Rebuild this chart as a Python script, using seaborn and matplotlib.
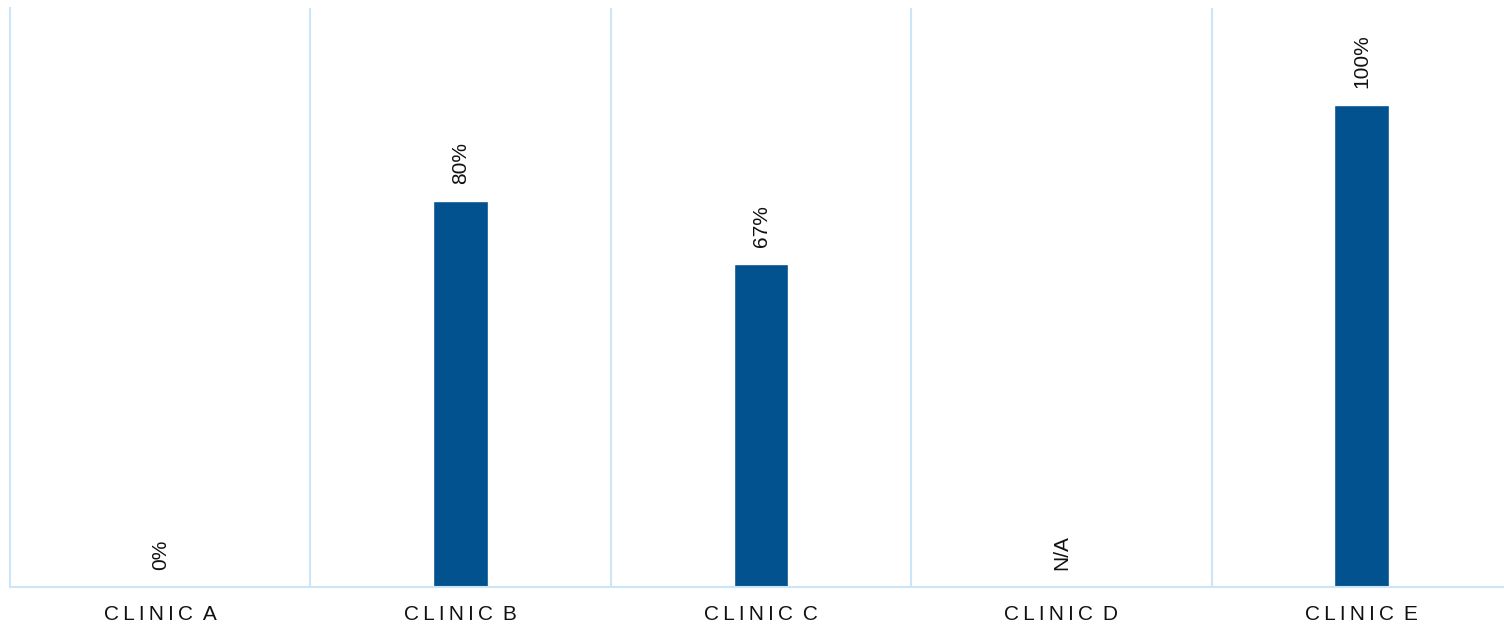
import pandas as pd
import numpy as np
import matplotlib.pyplot as plt
import seaborn as sns

# data
clinics = ["Clinic A", "Clinic B", "Clinic C", "Clinic D", "Clinic E"]
rates = [0, 80, 67, np.nan, 100]
labels = ["0%", "80%", "67%", "N/A", "100%"]

df = pd.DataFrame({"clinic": clinics, "rate": rates})

sns.set_style("white")
plt.rcParams['font.family'] = ['Liberation Sans', 'DejaVu Sans']

line_col = "#CDE5F8"
bar_col = "#01528F"

fig = plt.figure(figsize=(15.04, 6.24), dpi=100)
ax = fig.add_axes([10 / 1504, 1 - 587 / 624, 1502 / 1504, 579 / 624])

sns.barplot(data=df, x="clinic", y="rate", color=bar_col, width=0.183,
            saturation=1, ax=ax)

ax.set_xlim(-0.5, 4.5)
ax.set_ylim(0, 120)

# separators between clinics
for b in np.arange(0.5, 4.5, 1):
    ax.axvline(b, color=line_col, lw=1.5, zorder=0)

for i, (v, lab) in enumerate(zip(rates, labels)):
    h = 0 if np.isnan(v) else v
    ax.annotate(lab, (i, h), xytext=(0, 12), textcoords="offset points",
                rotation=90, ha="center", va="bottom", fontsize=15,
                color="#111111")

# spaced-out caps for tick labels
ticks = []
for c in clinics:
    word, letter = c.upper().split(" ")
    ticks.append("\u2009".join(word) + " \u2009" + letter)

ax.set_xticks(range(len(clinics)))
ax.set_xticklabels(ticks, fontsize=15, color="#111111")
ax.tick_params(axis="x", length=0, pad=13)
ax.set_yticks([])
ax.set_xlabel("")
ax.set_ylabel("")

sns.despine(ax=ax, top=True, right=True)
for s in ["left", "bottom"]:
    ax.spines[s].set_color(line_col)
    ax.spines[s].set_linewidth(1.5)

plt.savefig("out.png", dpi=100)
